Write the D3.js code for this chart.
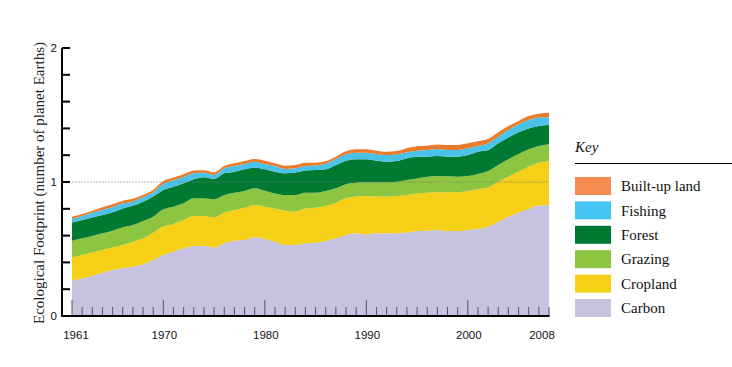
<!DOCTYPE html>
<html>
<head>
<meta charset="utf-8">
<script src="https://cdn.jsdelivr.net/npm/d3@7"></script>
<style>
  html, body { margin: 0; padding: 0; background: #fff; }
  svg { display: block; }
</style>
</head>
<body>
<svg id="chart" width="732" height="367"></svg>
<script>
// ---- data (number of planet Earths) ----
const years = d3.range(1961, 2009);
const carbon   = [.264,.281,.301,.323,.343,.356,.368,.386,.418,.455,.480,.505,.522,.522,.512,.542,.562,.567,.587,.575,.555,.530,.530,.542,.547,.560,.580,.604,.617,.609,.617,.617,.617,.624,.634,.637,.642,.634,.634,.642,.649,.667,.704,.741,.771,.799,.826,.826];
const cropland = [.174,.174,.172,.170,.169,.174,.187,.194,.204,.212,.207,.211,.224,.224,.224,.229,.229,.241,.241,.241,.248,.256,.249,.261,.261,.261,.266,.274,.274,.287,.274,.274,.279,.279,.281,.283,.281,.289,.289,.291,.296,.293,.298,.299,.306,.315,.318,.331];
const grazing  = [.124,.125,.124,.124,.125,.132,.124,.129,.119,.129,.129,.125,.132,.132,.135,.132,.129,.125,.125,.119,.112,.117,.124,.117,.112,.112,.107,.105,.104,.102,.107,.107,.106,.112,.112,.120,.122,.119,.117,.112,.115,.122,.125,.129,.132,.130,.125,.124];
const forest   = [.135,.136,.139,.137,.137,.141,.144,.144,.150,.144,.149,.149,.142,.157,.151,.162,.157,.162,.156,.160,.162,.162,.167,.165,.170,.162,.174,.176,.174,.171,.161,.154,.155,.162,.162,.149,.149,.147,.149,.156,.166,.157,.162,.164,.162,.156,.149,.144];
const fishing  = [.027,.030,.035,.037,.040,.036,.032,.033,.033,.045,.048,.048,.045,.035,.030,.037,.042,.039,.043,.039,.042,.032,.032,.034,.034,.042,.042,.048,.050,.050,.050,.049,.049,.045,.045,.050,.053,.050,.050,.050,.042,.050,.049,.055,.060,.062,.063,.058];
const builtUp  = [.017,.015,.015,.020,.020,.022,.020,.017,.017,.022,.020,.020,.020,.018,.020,.017,.020,.023,.020,.025,.020,.024,.025,.025,.020,.018,.020,.022,.025,.025,.025,.025,.025,.030,.032,.032,.032,.037,.037,.038,.037,.032,.033,.030,.025,.030,.029,.034];

const seriesNames   = ["Carbon", "Cropland", "Grazing", "Forest", "Fishing", "Built-up land"];
const seriesValues  = [carbon, cropland, grazing, forest, fishing, builtUp];
const areaColors    = ["#c6c3e0", "#f5d016", "#8dc540", "#007a33", "#4ac3ea", "#e87c2c"];
const legendColors  = ["#c6c3e0", "#f5d016", "#8dc540", "#007a33", "#45c6f2", "#f68c52"];

const yTickValues = d3.range(0, 2.0001, 0.2);
const yTickLabels = [0, 1, 2];
const xMajorYears = [1961, 1970, 1980, 1990, 2000];
const xLabelYears = [1961, 1970, 1980, 1990, 2000, 2008];

const yTitle = "Ecological Footprint (number of planet Earths)";
const keyTitle = "Key";

// ---- chart ----
const svg = d3.select("#chart");
const x = d3.scaleLinear().domain([1961, 2008]).range([72, 549]);
const y = d3.scaleLinear().domain([0, 2]).range([316, 48]);

const table = years.map((yr, i) => {
  const row = { year: yr };
  seriesNames.forEach((n, k) => row[n] = seriesValues[k][i]);
  return row;
});
const stack = d3.stack().keys(seriesNames)(table);

const area = d3.area()
  .x(d => x(d.data.year))
  .y0(d => y(d[0]))
  .y1(d => y(d[1]))
  .curve(d3.curveMonotoneX);

svg.append("g").selectAll("path")
  .data(stack)
  .join("path")
  .attr("d", area)
  .attr("fill", (d, i) => areaColors[i]);

// reference line at 1 planet
svg.append("line")
  .attr("x1", x(1961)).attr("x2", x(2008))
  .attr("y1", y(1)).attr("y2", y(1))
  .attr("stroke", "#7a7a7a").attr("stroke-opacity", 0.55)
  .attr("stroke-width", 1.2).attr("stroke-dasharray", "2,1");

// x year ticks (inside, on top of areas)
const xt = svg.append("g");
xt.selectAll("line")
  .data(years)
  .join("line")
  .attr("x1", d => x(d)).attr("x2", d => x(d))
  .attr("y1", d => xMajorYears.includes(d) ? y(0) - 16 : y(0) - 9)
  .attr("y2", y(0))
  .attr("stroke", "#555").attr("stroke-width", 1);

// axes lines
svg.append("line").attr("x1", 62).attr("x2", 62).attr("y1", y(2)).attr("y2", y(0) + 1)
  .attr("stroke", "#000").attr("stroke-width", 2);
svg.append("line").attr("x1", 61).attr("x2", x(2008) + 0.5).attr("y1", y(0)).attr("y2", y(0))
  .attr("stroke", "#000").attr("stroke-width", 2);

// y ticks
svg.append("g").selectAll("line")
  .data(yTickValues)
  .join("line")
  .attr("x1", 62).attr("x2", 70)
  .attr("y1", d => y(d)).attr("y2", d => y(d))
  .attr("stroke", "#000").attr("stroke-width", 2);

svg.append("g").selectAll("text")
  .data(yTickLabels)
  .join("text")
  .attr("x", 57).attr("y", d => y(d))
  .attr("dy", "0.36em")
  .attr("text-anchor", "end")
  .attr("font-family", "Liberation Sans, Arial, sans-serif")
  .attr("font-size", 11.5)
  .attr("fill", "#111")
  .text(d => d);

// x labels
svg.append("g").selectAll("text")
  .data(xLabelYears)
  .join("text")
  .attr("x", d => x(d) + (d === 1961 ? 4 : d === 2008 ? -7 : 1))
  .attr("y", 339)
  .attr("text-anchor", "middle")
  .attr("font-family", "Liberation Sans, Arial, sans-serif")
  .attr("font-size", 11.5)
  .attr("fill", "#111")
  .text(d => d);

// y title
svg.append("text")
  .attr("transform", "translate(44,183) rotate(-90)")
  .attr("text-anchor", "middle")
  .attr("font-family", "Liberation Serif, Times New Roman, serif")
  .attr("font-size", 15)
  .attr("fill", "#222")
  .text(yTitle);

// legend
const lg = svg.append("g");
lg.append("text")
  .attr("x", 575).attr("y", 152)
  .attr("font-family", "Liberation Serif, Times New Roman, serif")
  .attr("font-style", "italic")
  .attr("font-size", 15)
  .attr("fill", "#111")
  .text(keyTitle);
lg.append("line").attr("x1", 575).attr("x2", 732).attr("y1", 163.5).attr("y2", 163.5)
  .attr("stroke", "#000").attr("stroke-width", 1.2);

const legendOrder = d3.range(seriesNames.length).reverse();
const items = lg.selectAll("g.item")
  .data(legendOrder)
  .join("g")
  .attr("class", "item")
  .attr("transform", (d, i) => `translate(575,${177 + i * 24.4})`);
items.append("rect")
  .attr("width", 36).attr("height", 18)
  .attr("fill", d => legendColors[d]);
items.append("text")
  .attr("x", 46).attr("y", 9)
  .attr("dy", "0.35em")
  .attr("font-family", "Liberation Serif, Times New Roman, serif")
  .attr("font-size", 15)
  .attr("fill", "#111")
  .text(d => seriesNames[d]);
</script>
</body>
</html>
